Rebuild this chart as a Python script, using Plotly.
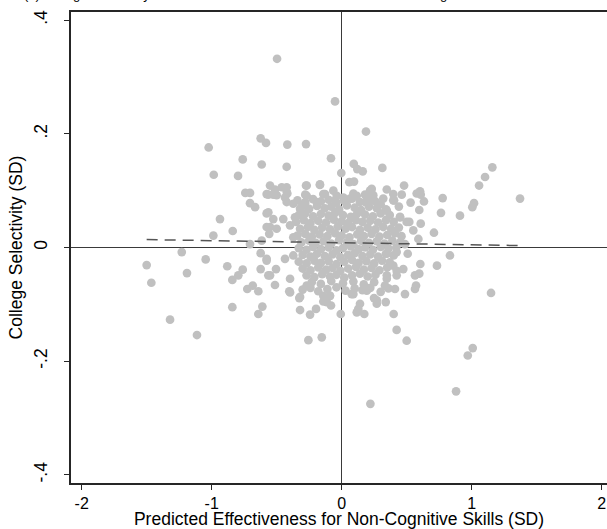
import plotly.graph_objects as go

# ---- scattered points (x = predicted effectiveness SD, y = college selectivity SD)
upper_x = [-0.497, -0.051, 0.187, -1.023, -0.623, -0.582, -0.418, -0.274, -0.761, -0.615,
           -0.423, -0.082, -0.984, -0.797, -0.003, 0.093, 0.120, 0.162, 0.313, 0.059,
           0.095, -0.551, -0.423, -0.274, -0.167, -0.741, -0.705, 0.231, 0.347, 0.480, 0.603,
           -0.577, -0.500, -0.418, -0.280, -0.141, -0.038, 0.090, 0.180, 0.243, 0.397, 0.462, 0.577]
upper_y = [0.332, 0.257, 0.204, 0.176, 0.192, 0.184, 0.181, 0.182, 0.155, 0.146,
           0.142, 0.157, 0.128, 0.126, 0.131, 0.147, 0.138, 0.134, 0.140, 0.115,
           0.116, 0.109, 0.106, 0.109, 0.111, 0.096, 0.096, 0.103, 0.102, 0.109, 0.099,
           0.094, 0.092, 0.095, 0.093, 0.094, 0.091, 0.095, 0.093, 0.092, 0.094, 0.093, 0.095]

right_x = [1.159, 1.103, 1.057, 1.018, 1.005, 1.372, 0.910, 0.777, 0.764, 0.710,
           0.833, 0.733, 0.605, 1.149, 0.633, 0.608, 0.597, 0.403, 0.341, 0.449,
           0.520, 0.608, 0.551, 0.590, 0.508, 0.597, 0.564, 0.572, 0.564, 0.487,
           0.410, 0.397, 0.423, 0.347, 0.333]
right_y = [0.141, 0.124, 0.109, 0.078, 0.071, 0.086, 0.056, 0.087, 0.061, 0.026,
           -0.014, -0.032, -0.029, -0.080, 0.081, 0.093, 0.066, 0.083, 0.067, 0.054,
           0.045, 0.042, 0.030, 0.015, -0.011, -0.046, -0.049, -0.067, -0.073, -0.082,
           -0.073, -0.032, -0.041, -0.049, -0.067]

left_x = [-0.936, -0.987, -0.838, -1.230, -1.500, -1.464, -1.190, -1.046, -0.880, -0.761,
          -0.795, -0.841, -0.726, -0.684, -0.641, -0.841, -0.610, -0.641, -1.320, -1.113,
          -0.705, -0.666, -0.577, -0.577, -0.557, -0.705, -0.615, -0.623, -0.577, -0.623, -0.564]
left_y = [0.050, 0.021, 0.029, -0.008, -0.031, -0.062, -0.045, -0.021, -0.033, -0.039,
          -0.049, -0.057, -0.073, -0.067, -0.077, -0.105, -0.104, -0.117, -0.127, -0.154,
          0.078, 0.071, 0.060, 0.036, 0.024, 0.006, 0.012, -0.010, -0.023, -0.038, -0.049]

lower_x = [-0.513, -0.403, -0.326, -0.320, -0.243, -0.197, -0.141, -0.082, -0.090, -0.256,
           -0.153, -0.007, 0.077, 0.193, 0.141, 0.128, 0.174, 0.249, 0.270, 0.339,
           0.400, 0.423, 0.500, 1.008, 0.970, 0.880, 0.221]
lower_y = [-0.066, -0.077, -0.089, -0.110, -0.118, -0.108, -0.095, -0.102, -0.085, -0.163,
           -0.158, -0.117, -0.082, -0.076, -0.099, -0.108, -0.117, -0.089, -0.099, -0.096,
           -0.117, -0.145, -0.164, -0.177, -0.190, -0.253, -0.275]

ring_x = [-0.513, -0.461, -0.423, -0.436, -0.423, -0.564, -0.526, -0.564, -0.526, -0.449,
          -0.359, -0.397, -0.500, -0.551, -0.372, -0.577, -0.505, -0.436, -0.372, -0.551,
          -0.397, -0.397, -0.320, -0.269, -0.141, -0.090, -0.115, 0.090, 0.116, 0.270,
          0.347, 0.423, 0.474, 0.347, 0.423, 0.487, 0.449, 0.500, 0.347, 0.320,
          0.397, 0.218, 0.243, 0.180, 0.064, 0.116, 0.013, -0.128, -0.064, -0.051,
          -0.269, -0.269, -0.167, -0.192, -0.282, -0.372, -0.320]
ring_y = [0.102, 0.106, 0.098, 0.088, 0.080, 0.093, 0.093, 0.062, 0.050, 0.050,
          0.053, 0.039, 0.033, 0.036, 0.018, -0.020, -0.038, -0.020, -0.014, -0.049,
          -0.055, -0.079, -0.087, -0.067, -0.085, -0.085, -0.096, -0.082, -0.114, -0.093,
          -0.055, -0.049, -0.038, -0.011, -0.008, 0.006, 0.053, 0.045, 0.065, 0.086,
          0.083, 0.100, 0.083, 0.080, 0.086, 0.091, 0.088, 0.094, 0.100, 0.083,
          0.109, 0.091, 0.110, 0.080, 0.077, 0.077, 0.068]

band_x = [-0.34, -0.28, -0.22, -0.16, -0.10, -0.04, 0.02, 0.08, 0.14, 0.20, 0.26, 0.30, 0.44, 0.53,
          -0.30, -0.24, -0.18, -0.11, -0.04, 0.03, 0.10, 0.16, 0.22, 0.30, 0.36]
band_y = [0.083, 0.080, 0.085, 0.081, 0.084, 0.079, 0.082, 0.086, 0.080, 0.084, 0.081, 0.076, 0.072, 0.079,
          -0.074, -0.071, -0.077, -0.073, -0.070, -0.076, -0.072, -0.075, -0.071, -0.078, -0.072]

core_x = [
    -0.31, -0.25, -0.19, -0.13, -0.08, -0.02, 0.04, 0.10, 0.15, 0.21, 0.27,
    -0.33, -0.28, -0.22, -0.16, -0.10, -0.05, 0.01, 0.07, 0.12, 0.18, 0.24, 0.30, 0.37,
    -0.35, -0.29, -0.24, -0.18, -0.12, -0.06, 0.00, 0.05, 0.11, 0.16, 0.22, 0.28, 0.34, 0.40,
    -0.32, -0.26, -0.21, -0.15, -0.09, -0.03, 0.03, 0.08, 0.14, 0.20, 0.26, 0.32, 0.38, 0.44,
    -0.34, -0.28, -0.23, -0.17, -0.11, -0.05, 0.00, 0.06, 0.12, 0.17, 0.23, 0.29, 0.35, 0.41, 0.46,
    -0.31, -0.25, -0.20, -0.14, -0.08, -0.02, 0.04, 0.09, 0.15, 0.21, 0.27, 0.33, 0.39, 0.45,
    -0.33, -0.27, -0.22, -0.16, -0.10, -0.04, 0.01, 0.07, 0.13, 0.18, 0.24, 0.30, 0.36, 0.42,
    -0.30, -0.24, -0.19, -0.13, -0.07, -0.01, 0.05, 0.10, 0.16, 0.22, 0.28, 0.34, 0.40,
    -0.33, -0.27, -0.21, -0.16, -0.10, -0.04, 0.02, 0.08, 0.13, 0.19, 0.25, 0.31, 0.37,
    -0.30, -0.24, -0.18, -0.12, -0.07, -0.01, 0.05, 0.11, 0.17, 0.23, 0.29, 0.35,
    -0.27, -0.21, -0.15, -0.09, -0.04, 0.02, 0.08, 0.14, 0.20, 0.26,
    -0.23, -0.16, -0.08, 0.01, 0.09, 0.17, 0.25,
]
core_y = [
    0.071, 0.068, 0.073, 0.069, 0.072, 0.067, 0.074, 0.070, 0.066, 0.072, 0.069,
    0.057, 0.060, 0.055, 0.059, 0.056, 0.061, 0.057, 0.054, 0.060, 0.058, 0.055, 0.060, 0.057,
    0.045, 0.048, 0.043, 0.047, 0.044, 0.049, 0.046, 0.043, 0.048, 0.045, 0.047, 0.044, 0.048, 0.045,
    0.033, 0.036, 0.031, 0.035, 0.032, 0.037, 0.033, 0.036, 0.031, 0.035, 0.032, 0.036, 0.033, 0.035,
    0.021, 0.024, 0.019, 0.023, 0.020, 0.025, 0.021, 0.018, 0.023, 0.020, 0.024, 0.019, 0.022, 0.025, 0.020,
    0.009, 0.012, 0.008, 0.011, 0.007, 0.013, 0.009, 0.006, 0.012, 0.008, 0.011, 0.007, 0.012, 0.009,
    -0.001, -0.004, 0.001, -0.003, 0.000, -0.005, -0.001, 0.002, -0.003, 0.000, -0.004, 0.001, -0.002, 0.000,
    -0.013, -0.016, -0.011, -0.015, -0.012, -0.017, -0.013, -0.010, -0.015, -0.012, -0.016, -0.011, -0.014,
    -0.025, -0.028, -0.023, -0.027, -0.024, -0.029, -0.025, -0.022, -0.027, -0.024, -0.028, -0.023, -0.026,
    -0.037, -0.040, -0.035, -0.039, -0.036, -0.041, -0.037, -0.034, -0.039, -0.036, -0.040, -0.035,
    -0.049, -0.052, -0.047, -0.051, -0.048, -0.053, -0.049, -0.046, -0.051, -0.048,
    -0.061, -0.064, -0.059, -0.063, -0.060, -0.065, -0.061,
]

# fitted line end points (dashed)
fit_x = [-1.500, 1.372]
fit_y = [0.0139, 0.0034]

x_tick_vals = [-2, -1, 0, 1, 2]
x_tick_text = ["-2", "-1", "0", "1", "2"]
y_tick_vals = [-0.4, -0.2, 0, 0.2, 0.4]
y_tick_text = ["-.4", "-.2", "0", ".2", ".4"]

pairs = [(upper_x, upper_y), (right_x, right_y), (left_x, left_y),
         (lower_x, lower_y), (ring_x, ring_y), (band_x, band_y), (core_x, core_y)]
for a, b in pairs:
    assert len(a) == len(b), (len(a), len(b))

all_x = [v for a, _ in pairs for v in a]
all_y = [v for _, b in pairs for v in b]

FONT = "Liberation Sans, Arial, Helvetica, sans-serif"
AX = "#262626"

fig = go.Figure()
fig.add_trace(go.Scatter(
    x=all_x, y=all_y, mode="markers",
    marker=dict(size=8.7, color="#c0c0c0", line=dict(width=0)),
    hoverinfo="skip", showlegend=False))
fig.add_trace(go.Scatter(
    x=fit_x, y=fit_y, mode="lines",
    line=dict(color="#555555", width=1.5, dash="11px,7px"),
    hoverinfo="skip", showlegend=False))

fig.update_layout(
    width=607, height=529,
    margin=dict(l=71, r=0, t=12, b=46, autoexpand=False),
    paper_bgcolor="white", plot_bgcolor="white",
    font=dict(family=FONT, color="#000000", size=17),
    xaxis=dict(
        range=[-2.082, 2.041], tickvals=x_tick_vals, ticktext=x_tick_text,
        showgrid=False, zeroline=True, zerolinecolor="#3a3a3a", zerolinewidth=1.2,
        showline=True, linecolor=AX, linewidth=1.5, mirror=True,
        ticks="outside", ticklen=5, tickcolor=AX, tickwidth=1,
        tickfont=dict(size=16), ticklabelstandoff=0,
        automargin=False,
        title=dict(text="Predicted Effectiveness for Non-Cognitive Skills (SD)",
                   font=dict(size=17.5), standoff=3),
    ),
    yaxis=dict(
        range=[-0.4143, 0.4143], tickvals=y_tick_vals, ticktext=y_tick_text,
        tickangle=-90,
        showgrid=False, zeroline=True, zerolinecolor="#3a3a3a", zerolinewidth=1.2,
        showline=True, linecolor=AX, linewidth=1.5, mirror=False,
        ticks="outside", ticklen=5, tickcolor=AX, tickwidth=1,
        tickfont=dict(size=17.5), ticklabelstandoff=10,
        automargin=False,
        title=dict(text="College Selectivity (SD)", font=dict(size=17.5), standoff=4),
    ),
)

fig.add_annotation(
    text="(b) College Selectivity and Teachers' Predicted Effectiveness for Non-Cognitive Skills",
    xref="paper", yref="paper", x=-49 / 536, y=1 + 8 / 471,
    xanchor="left", yanchor="bottom", showarrow=False,
    font=dict(family=FONT, size=13, color="#000000"))

fig.write_html("out.html",
               config={"displayModeBar": False},
               post_script="document.body.style.margin='0px';document.body.style.overflow='hidden';")
